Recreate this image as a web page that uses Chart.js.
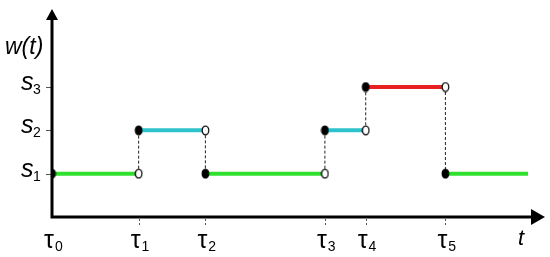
<!DOCTYPE html>
<html>
<head>
<meta charset="utf-8">
<script src="https://cdn.jsdelivr.net/npm/chart.js@4"></script>
<style>
  html, body { margin: 0; padding: 0; background: #fff; }
  #wrap { width: 550px; height: 257px; }
</style>
</head>
<body>
<div id="wrap"><canvas id="chart"></canvas></div>
<script>
// Instants de saut (axe t) et fin du dernier palier
const tauLabels = ['0', '1', '2', '3', '4', '5'];
const tauValues = [0, 87, 154, 274, 315, 395];
const tEnd = 478;
const tMax = 495;

// Niveaux s1..s3 et niveau occupe sur chaque palier
const levelLabels = ['1', '2', '3'];
const levelValues = [1, 2, 3];
const segmentLevels = [1, 2, 1, 2, 3, 1];
const segmentColors = ['#2fe02f', '#2ec3cc', '#2fe02f', '#2ec3cc', '#e8201f', '#2fe02f'];
const yMax = 4.8;

// Petits points elliptiques (plein / vide)
function makeDot(filled) {
    const c = document.createElement('canvas');
    c.width = 9; c.height = 11;
    const g = c.getContext('2d');
    g.beginPath();
    g.ellipse(4.5, 5.5, 3.3, 4.4, 0, 0, Math.PI * 2);
    g.fillStyle = filled ? '#000' : '#fff';
    g.fill();
    g.lineWidth = 1.2;
    g.strokeStyle = '#000';
    g.stroke();
    return c;
}
const filledDot = makeDot(true);
const openDot = makeDot(false);

const datasets = [];

// Paliers horizontaux
segmentLevels.forEach((lvl, i) => {
    const xEnd = i + 1 < tauValues.length ? tauValues[i + 1] : tEnd;
    datasets.push({
        type: 'line',
        data: [{ x: tauValues[i], y: lvl }, { x: xEnd, y: lvl }],
        borderColor: segmentColors[i],
        borderWidth: 4,
        pointRadius: 0,
        order: 3
    });
});

// Sauts en pointilles
for (let i = 1; i < segmentLevels.length; i++) {
    datasets.push({
        type: 'line',
        data: [{ x: tauValues[i], y: segmentLevels[i - 1] }, { x: tauValues[i], y: segmentLevels[i] }],
        borderColor: '#222',
        borderWidth: 1,
        borderDash: [3, 2],
        pointRadius: 0,
        order: 4
    });
}

// Points ouverts (fin de palier)
datasets.push({
    type: 'scatter',
    data: tauValues.slice(1).map((t, i) => ({ x: t, y: segmentLevels[i] })),
    pointStyle: openDot,
    order: 1
});

// Points pleins (debut de palier)
datasets.push({
    type: 'scatter',
    data: tauValues.map((t, i) => ({ x: t, y: segmentLevels[i] })),
    pointStyle: filledDot,
    order: 0
});

// Axes flechés + étiquettes dessinés à partir des échelles
const axesPlugin = {
    id: 'axes',
    beforeDatasetsDraw(chart) {
        const ctx = chart.ctx;
        const xs = chart.scales.x, ys = chart.scales.y;
        const x0 = xs.getPixelForValue(0), y0 = ys.getPixelForValue(0);
        const xTip = xs.getPixelForValue(tMax), yTip = ys.getPixelForValue(yMax);
        ctx.save();

        // petites graduations
        ctx.strokeStyle = '#555';
        ctx.lineWidth = 1;
        levelValues.forEach(v => {
            const y = Math.round(ys.getPixelForValue(v)) + 0.5;
            ctx.beginPath(); ctx.moveTo(x0 - 6, y); ctx.lineTo(x0, y); ctx.stroke();
        });
        ctx.setLineDash([2, 2]);
        tauValues.slice(1).forEach(t => {
            const x = Math.round(xs.getPixelForValue(t)) + 0.5;
            ctx.beginPath(); ctx.moveTo(x, y0 + 2); ctx.lineTo(x, y0 + 8); ctx.stroke();
        });
        ctx.setLineDash([]);

        // axes
        ctx.strokeStyle = '#000';
        ctx.lineWidth = 3;
        ctx.beginPath();
        ctx.moveTo(x0, yTip + 8);
        ctx.lineTo(x0, y0);
        ctx.lineTo(xTip - 10, y0);
        ctx.stroke();
        ctx.fillStyle = '#000';
        ctx.beginPath();
        ctx.moveTo(x0, yTip); ctx.lineTo(x0 - 6, yTip + 11); ctx.lineTo(x0 + 6, yTip + 11);
        ctx.closePath(); ctx.fill();
        ctx.beginPath();
        ctx.moveTo(xTip, y0); ctx.lineTo(xTip - 14, y0 - 8); ctx.lineTo(xTip - 14, y0 + 8);
        ctx.closePath(); ctx.fill();

        // étiquettes
        ctx.fillStyle = '#000';
        ctx.textBaseline = 'alphabetic';
        ctx.textAlign = 'left';
        levelValues.forEach((v, i) => {
            const y = ys.getPixelForValue(v);
            ctx.font = 'italic 25px "Liberation Sans", Arial, sans-serif';
            ctx.fillText('s', 21, y + 3);
            ctx.font = '14px "Liberation Sans", Arial, sans-serif';
            ctx.fillText(levelLabels[i], 33, y + 7);
        });
        tauValues.forEach((t, i) => {
            const x = xs.getPixelForValue(t);
            ctx.font = '25px "Liberation Sans", Arial, sans-serif';
            ctx.fillText('\u03c4', x - 8, 248);
            const w = ctx.measureText('\u03c4').width;
            ctx.font = '14px "Liberation Sans", Arial, sans-serif';
            ctx.fillText(tauLabels[i], x - 7 + w, 251);
        });
        ctx.font = 'italic 22px "Liberation Sans", Arial, sans-serif';
        ctx.fillText('t', 518, 245);
        ctx.font = 'italic 23px "Liberation Sans", Arial, sans-serif';
        ctx.fillText('w(t)', 5, 54);
        ctx.restore();
    }
};

new Chart(document.getElementById('chart'), {
    type: 'scatter',
    data: { datasets },
    options: {
        responsive: true,
        maintainAspectRatio: false,
        animation: false,
        layout: { padding: { left: 52, right: 3, top: 9, bottom: 40 } },
        plugins: { legend: { display: false }, tooltip: { enabled: false } },
        scales: {
            x: { type: 'linear', min: 0, max: tMax, display: false },
            y: { type: 'linear', min: 0, max: yMax, display: false }
        }
    },
    plugins: [axesPlugin]
});
</script>
</body>
</html>
